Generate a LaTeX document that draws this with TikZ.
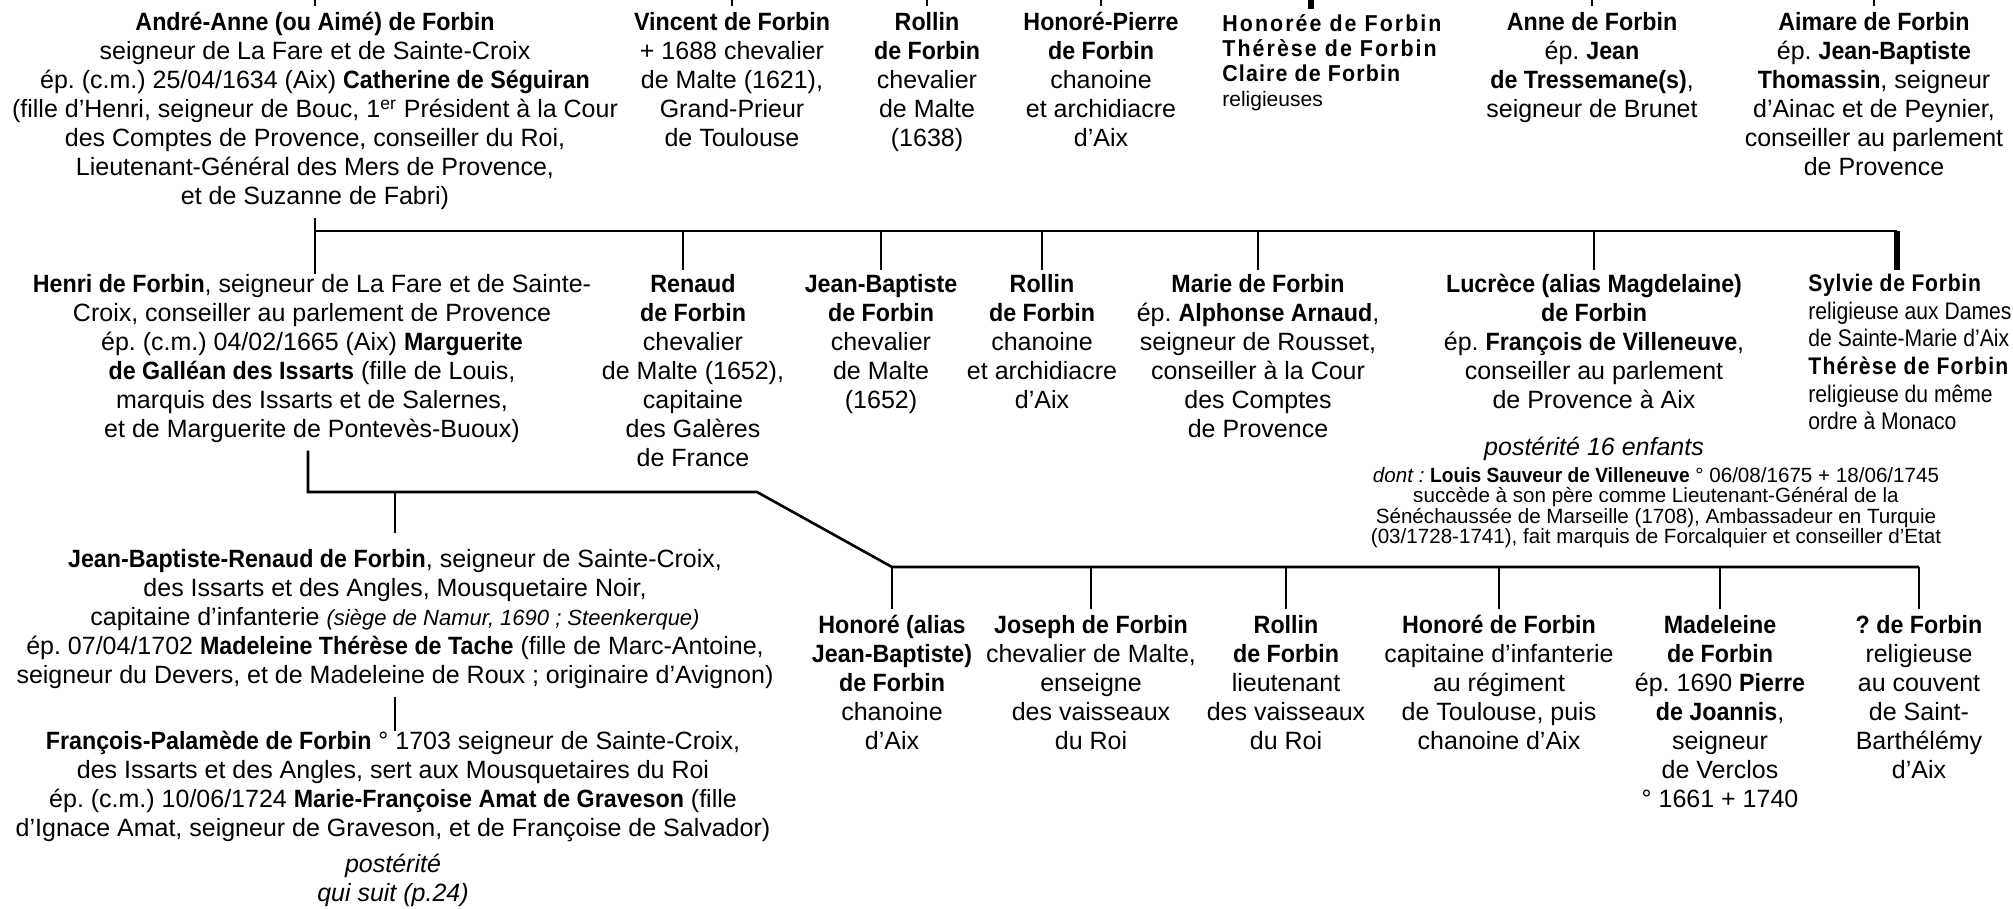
\documentclass[tikz,border=0pt]{standalone}
\usepackage{fontspec}
\setmainfont{Liberation Sans}[BoldFeatures={FakeStretch=0.93}]
\newfontfamily\narrowfont{Liberation Sans}[FakeStretch=0.88]
\usetikzlibrary{positioning}
\frenchspacing

\tikzset{
  person/.style={align=center, inner sep=0pt, anchor=north,
    font=\fontsize{12.5}{14.5}\selectfont, execute at begin node=\strut},
  sisters/.style={align=left, inner sep=0pt, anchor=north west,
    font=\fontsize{11.5}{12.6}\selectfont, execute at begin node=\strut},
  nuns/.style={align=left, inner sep=0pt, anchor=north west,
    font=\narrowfont\fontsize{12}{13.8}\selectfont, execute at begin node=\strut},
  smallnote/.style={align=center, inner sep=0pt,
    font=\fontsize{10.3}{9.7}\selectfont, execute at begin node=\strut},
  link/.style={line width=1.3pt, shorten <=2pt},
  thicklink/.style={line width=3pt}
}
\newcommand{\spaced}[2][3]{{\bfseries\addfontfeature{LetterSpace=#1}#2}}

\begin{document}
\begin{tikzpicture}[x=0.5pt,y=-0.5pt]
  \fill[white] (0,0) rectangle (2013,909);
  \useasboundingbox (0,0) rectangle (2013,909);

  % generation of Andre-Anne
  \node[person](andre) at (315,12){\textbf{André-Anne (ou Aimé) de Forbin}\\
    seigneur de La Fare et de Sainte-Croix\\
    ép. (c.m.) 25/04/1634 (Aix) \textbf{Catherine de Séguiran}\\
    (fille d’Henri, seigneur de Bouc, 1\textsuperscript{er} Président à la Cour\\
    des Comptes de Provence, conseiller du Roi,\\
    Lieutenant-Général des Mers de Provence,\\
    et de Suzanne de Fabri)};
  \node[person](vincent) at (732,12){\textbf{Vincent de Forbin}\\+ 1688 chevalier\\de Malte (1621),\\Grand-Prieur\\de Toulouse};
  \node[person](rollinA) at (927,12){\textbf{Rollin}\\\textbf{de Forbin}\\chevalier\\de Malte\\(1638)};
  \node[person](honorepierre) at (1101,12){\textbf{Honoré-Pierre}\\\textbf{de Forbin}\\chanoine\\et archidiacre\\d’Aix};
  \node[sisters](honoree) at (1222,14){\spaced[9]{Honorée de Forbin}\\\spaced[9]{Thérèse de Forbin}\\\spaced[5]{Claire de Forbin}\\{\fontsize{10.5}{12.6}\selectfont religieuses}};
  \node[person](anne) at (1592,12){\textbf{Anne de Forbin}\\ép. \textbf{Jean}\\\textbf{de Tressemane(s)},\\seigneur de Brunet};
  \node[person](aimare) at (1874,12){\textbf{Aimare de Forbin}\\ép. \textbf{Jean-Baptiste}\\\textbf{Thomassin}, seigneur\\d’Ainac et de Peynier,\\conseiller au parlement\\de Provence};

  % children of Andre-Anne
  \node[person](henri) at (312,274){\textbf{Henri de Forbin}, seigneur de La Fare et de Sainte-\\
    Croix, conseiller au parlement de Provence\\
    ép. (c.m.) 04/02/1665 (Aix) \textbf{Marguerite}\\
    \textbf{de Galléan des Issarts} (fille de Louis,\\
    marquis des Issarts et de Salernes,\\
    et de Marguerite de Pontevès-Buoux)};
  \node[person](renaud) at (693,274){\textbf{Renaud}\\\textbf{de Forbin}\\chevalier\\de Malte (1652),\\capitaine\\des Galères\\de France};
  \node[person](jeanbaptiste) at (881,274){\textbf{Jean-Baptiste}\\\textbf{de Forbin}\\chevalier\\de Malte\\(1652)};
  \node[person](rollinB) at (1042,274){\textbf{Rollin}\\\textbf{de Forbin}\\chanoine\\et archidiacre\\d’Aix};
  \node[person](marie) at (1258,274){\textbf{Marie de Forbin}\\ép. \textbf{Alphonse Arnaud},\\seigneur de Rousset,\\conseiller à la Cour\\des Comptes\\de Provence};
  \node[person](lucrece) at (1594,274){\textbf{Lucrèce (alias Magdelaine)}\\\textbf{de Forbin}\\ép. \textbf{François de Villeneuve},\\conseiller au parlement\\de Provence à Aix};
  \node[nuns](sylvie) at (1808,274){\spaced{Sylvie de Forbin}\\religieuse aux Dames\\de Sainte-Marie d’Aix\\\spaced[5]{Thérèse de Forbin}\\religieuse du même\\ordre à Monaco};
  \node[person,font=\itshape\fontsize{12.5}{14.5}\selectfont](post16)[below=8.5pt of lucrece]{postérité 16 enfants};
  \node[smallnote](dont)[below=1.5pt of post16, xshift=31pt]{\textit{dont :} \textbf{Louis Sauveur de Villeneuve} ° 06/08/1675 + 18/06/1745\\
    succède à son père comme Lieutenant-Général de la\\
    Sénéchaussée de Marseille (1708), Ambassadeur en Turquie\\
    (03/1728-1741), fait marquis de Forcalquier et conseiller d’Etat};

  % children of Henri
  \node[person](jbr) at (395,549){\textbf{Jean-Baptiste-Renaud de Forbin}, seigneur de Sainte-Croix,\\
    des Issarts et des Angles, Mousquetaire Noir,\\
    capitaine d’infanterie {\itshape\fontsize{11}{14.5}\selectfont (siège de Namur, 1690 ; Steenkerque)}\\
    ép. 07/04/1702 \textbf{Madeleine Thérèse de Tache} (fille de Marc-Antoine,\\
    seigneur du Devers, et de Madeleine de Roux ; originaire d’Avignon)};
  \node[person](palamede) at (393,731){\textbf{François-Palamède de Forbin} ° 1703 seigneur de Sainte-Croix,\\
    des Issarts et des Angles, sert aux Mousquetaires du Roi\\
    ép. (c.m.) 10/06/1724 \textbf{Marie-Françoise Amat de Graveson} (fille\\
    d’Ignace Amat, seigneur de Graveson, et de Françoise de Salvador)};
  \node[person,font=\itshape\fontsize{12.5}{14.5}\selectfont](suite)[below=4pt of palamede]{postérité\\qui suit (p.24)};
  \node[person](honoreA) at (892,615){\textbf{Honoré (alias}\\\textbf{Jean-Baptiste)}\\\textbf{de Forbin}\\chanoine\\d’Aix};
  \node[person](joseph) at (1091,615){\textbf{Joseph de Forbin}\\chevalier de Malte,\\enseigne\\des vaisseaux\\du Roi};
  \node[person](rollinC) at (1286,615){\textbf{Rollin}\\\textbf{de Forbin}\\lieutenant\\des vaisseaux\\du Roi};
  \node[person](honoreB) at (1499,615){\textbf{Honoré de Forbin}\\capitaine d’infanterie\\au régiment\\de Toulouse, puis\\chanoine d’Aix};
  \node[person](madeleine) at (1720,615){\textbf{Madeleine}\\\textbf{de Forbin}\\ép. 1690 \textbf{Pierre}\\\textbf{de Joannis},\\seigneur\\de Verclos\\° 1661 + 1740};
  \node[person](inconnue) at (1919,615){\textbf{? de Forbin}\\religieuse\\au couvent\\de Saint-\\Barthélémy\\d’Aix};

  % connectors
  \coordinate (bar1) at (0,231);
  \coordinate (bar1end) at (1897,231);
  \coordinate (bar2) at (0,492);
  \coordinate (bend) at (757,492);
  \coordinate (bar3) at (0,567);
  \coordinate (bar3end) at (1919,567);
  \coordinate (honoreetop) at (1311,9);

  \foreach \n in {andre,vincent,rollinA,honorepierre,anne,aimare}
    \draw[link, shorten <=3pt] (\n.north) -- (\n.north |- 0,0);
  \draw[thicklink] (honoreetop) -- (honoreetop |- 0,0);

  \draw[link] (andre.south) -- (andre.south |- henri.north);
  \draw[link, shorten <=0pt] (andre.south |- bar1) -- (bar1end);
  \draw[thicklink] (bar1end) -- ([yshift=2pt]bar1end |- sylvie.north);
  \draw[link] ([xshift=-5pt]renaud.north) -- ([xshift=-5pt]renaud.north |- bar1);
  \foreach \n in {jeanbaptiste,rollinB,marie,lucrece}
    \draw[link] (\n.north) -- (\n.north |- bar1);

  \draw[link] ([xshift=-2pt]henri.south) -- ([xshift=-2pt]henri.south |- bar2) -- (bend)
    -- (honoreA.north |- bar3) -- (bar3end);
  \draw[link, shorten <=8pt] (jbr.north) -- (jbr.north |- bar2);
  \draw[link] (jbr.south) -- (jbr.south |- palamede.north);
  \foreach \n in {honoreA,joseph,rollinC,honoreB,madeleine,inconnue}
    \draw[link, shorten <=3pt] (\n.north) -- (\n.north |- bar3);
\end{tikzpicture}
\end{document}
